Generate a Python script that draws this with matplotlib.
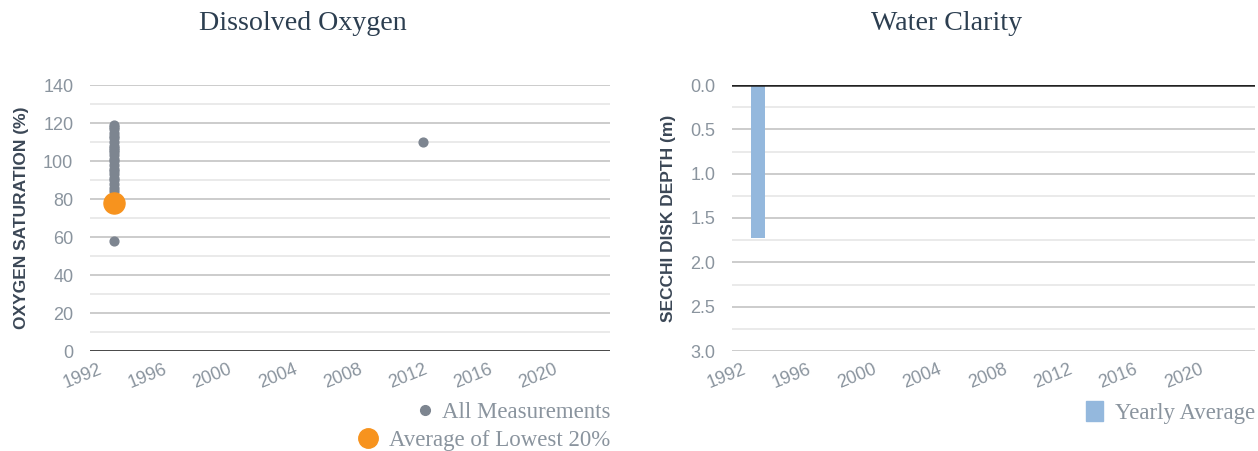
import numpy as np
import matplotlib
matplotlib.use("Agg")
import matplotlib.pyplot as plt
import matplotlib.lines as mlines
import matplotlib.patches as mpatches
from matplotlib.ticker import MultipleLocator, FormatStrFormatter

# dissolved oxygen, all measurements (year, % saturation)
do_years = [1993] * 24 + [2012]
do_values = [119, 118, 117, 115, 113, 112, 110, 108, 107, 106, 105, 103,
             101, 100, 98, 96, 95, 93, 91, 90, 88, 86, 84, 58, 110]
# average of lowest 20%
low_years = [1993]
low_values = [78]

# water clarity, yearly average secchi depth
secchi_years = [1993]
secchi_depth = [1.72]

year_ticks = [1992, 1996, 2000, 2004, 2008, 2012, 2016, 2020]

TICK_C = '#8a949e'
LABEL_C = '#3b4756'
TITLE_C = '#2c3e50'
SERIF = 'Liberation Serif'
SANS = 'Liberation Sans'

fig = plt.figure(figsize=(12.58, 4.51), dpi=100)
ax1 = fig.add_axes([90/1258, 100/451, 520/1258, 266/451])
ax2 = fig.add_axes([732/1258, 100/451, 523/1258, 266/451])


def style_axis(ax, xlim):
	for s in ax.spines.values():
		s.set_visible(False)
	ax.set_xlim(*xlim)
	ax.set_xticks(year_ticks)
	ax.set_xticklabels([str(y) for y in year_ticks], rotation=22, ha='right',
		rotation_mode='anchor', va='top', fontsize=13, color=TICK_C, family=SANS)
	ax.tick_params(axis='x', length=0, pad=7)
	ax.tick_params(axis='y', which='both', length=0, pad=12, labelsize=13, labelcolor=TICK_C)
	for lbl in ax.get_yticklabels():
		lbl.set_family(SANS)
	ax.set_axisbelow(True)
	ax.grid(axis='y', which='major', color='#c8c8c8', linewidth=1.3)
	ax.grid(axis='y', which='minor', color='#e8e8e8', linewidth=1.3)
	ax.grid(axis='x', visible=False)


def grey_texts(leg):
	for t in leg.get_texts():
		t.set_color(TICK_C)


# --- Dissolved Oxygen ---
ax1.set_ylim(0, 140)
ax1.yaxis.set_major_locator(MultipleLocator(20))
ax1.yaxis.set_minor_locator(MultipleLocator(10))
style_axis(ax1, (1991.5, 2023.5))
ax1.axhline(0, color='#222222', linewidth=1.8, zorder=3)
ax1.scatter(do_years, do_values, s=40, color='#7d8590', zorder=4, clip_on=False)
ax1.scatter(low_years, low_values, s=230, color='#f7931e', zorder=5, clip_on=False)
ax1.set_ylabel('OXYGEN SATURATION (%)', fontsize=12.5, fontweight='bold', color=LABEL_C,
	family=SANS, labelpad=10)

h1 = mlines.Line2D([], [], marker='o', linestyle='none', color='#7d8590', markersize=7)
h2 = mlines.Line2D([], [], marker='o', linestyle='none', color='#f7931e', markersize=14)
leg1 = ax1.legend(handles=[h1], labels=['All Measurements'], loc='center right',
	bbox_to_anchor=(1.0, -0.23), frameon=False, borderpad=0, borderaxespad=0,
	handletextpad=0.1, handlelength=1.2, prop={'family': SERIF, 'size': 16.5})
grey_texts(leg1)
ax1.add_artist(leg1)
leg2 = ax1.legend(handles=[h2], labels=['Average of Lowest 20%'], loc='center right',
	bbox_to_anchor=(1.0, -0.335), frameon=False, borderpad=0, borderaxespad=0,
	handletextpad=0.2, handlelength=1.4, prop={'family': SERIF, 'size': 16.5})
grey_texts(leg2)

# --- Water Clarity ---
ax2.set_ylim(3.0, 0.0)
ax2.yaxis.set_major_locator(MultipleLocator(0.5))
ax2.yaxis.set_minor_locator(MultipleLocator(0.25))
ax2.yaxis.set_major_formatter(FormatStrFormatter('%.1f'))
style_axis(ax2, (1991.4, 2023.4))
ax2.axhline(0, color='#222222', linewidth=1.8, zorder=3)
ax2.bar(secchi_years, secchi_depth, width=0.85, color='#94b8dd', zorder=2)
ax2.set_ylabel('SECCHI DISK DEPTH (m)', fontsize=12.5, fontweight='bold', color=LABEL_C,
	family=SANS, labelpad=10)

h3 = mpatches.Patch(color='#94b8dd')
leg3 = ax2.legend(handles=[h3], labels=['Yearly Average'], loc='center right',
	bbox_to_anchor=(1.0, -0.23), frameon=False, borderpad=0, borderaxespad=0,
	handletextpad=0.5, handlelength=0.75, handleheight=1.0, prop={'family': SERIF, 'size': 16.5})
grey_texts(leg3)

# titles centred over each half
fig.text(303/1258, 1 - 24/451, 'Dissolved Oxygen', ha='center', va='center',
	fontsize=20.2, color=TITLE_C, family=SERIF)
fig.text(947/1258, 1 - 24/451, 'Water Clarity', ha='center', va='center',
	fontsize=20.2, color=TITLE_C, family=SERIF)

fig.savefig('out.png', dpi=100)
